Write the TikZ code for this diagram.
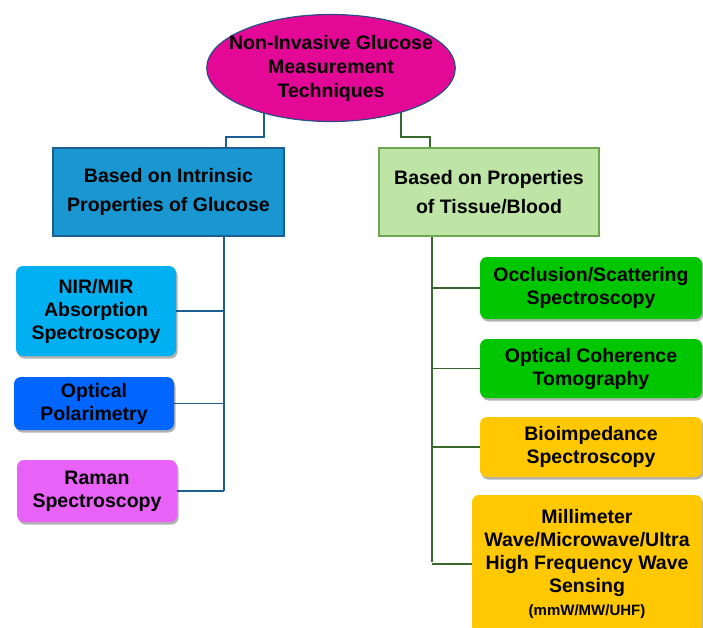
\documentclass[tikz,border=0pt]{standalone}
\usepackage{fontspec}
\setmainfont{Liberation Sans}
\usepackage{tikz}
\usetikzlibrary{shapes.geometric, shadows}
\pgfdeclarelayer{background}
\pgfsetlayers{background,main}

\definecolor{rootfill}{RGB}{228,8,150}
\definecolor{rootline}{RGB}{40,80,130}
\definecolor{intrfill}{RGB}{26,150,208}
\definecolor{intrline}{RGB}{30,95,145}
\definecolor{tissfill}{RGB}{190,229,166}
\definecolor{tissline}{RGB}{110,168,80}
\definecolor{greenline}{RGB}{55,105,45}
\definecolor{nirfill}{RGB}{0,176,240}
\definecolor{polfill}{RGB}{0,102,255}
\definecolor{ramfill}{RGB}{233,98,248}
\definecolor{occfill}{RGB}{0,198,0}
\definecolor{biofill}{RGB}{255,200,0}

\tikzset{
  root/.style={ellipse, draw=rootline, line width=1.2pt, fill=rootfill,
    align=center, inner xsep=-14pt, inner ysep=0pt, minimum width=248, minimum height=107,
    font=\bfseries\fontsize{19.5}{24}\selectfont},
  group/.style={rectangle, line width=1.2pt, align=center, inner sep=0pt,
    font=\bfseries\fontsize{19.5}{29}\selectfont},
  method/.style={rectangle, rounded corners=7pt, align=center, inner sep=0pt,
    font=\bfseries\fontsize{19.5}{23}\selectfont,
    drop shadow={shadow xshift=1.5pt, shadow yshift=-2.5pt, opacity=0.3, fill=black}},
  lline/.style={draw=intrline, line width=1.8pt},
  rline/.style={draw=greenline, line width=1.8pt}
}

\begin{document}
\begin{tikzpicture}[x=1pt, y=-1pt]
\useasboundingbox (0,0) rectangle (703,628);

\node [root] (E) at (331,68) {Non-Invasive Glucose\\Measurement\\Techniques};

\node [group, draw=intrline, fill=intrfill, minimum width=231, minimum height=88]
  (M1) at (168.5,192) {Based on Intrinsic\\Properties of Glucose};
\node [group, draw=tissline, fill=tissfill, minimum width=220, minimum height=88]
  (M2) at (489,192) {Based on Properties\\of Tissue/Blood};


\node [method, fill=nirfill, minimum width=160, minimum height=90] (L1) at (96,311) {NIR/MIR\\Absorption\\Spectroscopy};
\node [method, fill=polfill, minimum width=160, minimum height=53] (L2) at (94,403.5) {Optical\\Polarimetry};
\node [method, fill=ramfill, minimum width=160, minimum height=62] (L3) at (97,491) {Raman\\Spectroscopy};

\node [method, fill=occfill, minimum width=222, minimum height=62] (R1) at (591,288) {Occlusion/Scattering\\Spectroscopy};
\node [method, fill=occfill, minimum width=222, minimum height=59] (R2) at (591,368.5) {Optical Coherence\\Tomography};
\node [method, fill=biofill, minimum width=222, minimum height=60] (R3) at (591,447) {Bioimpedance\\Spectroscopy};
\node [method, fill=biofill, minimum width=230, minimum height=138] (R4) at (587,564)
  {Millimeter\\Wave/Microwave/Ultra\\High Frequency Wave\\Sensing\\{\fontsize{15}{23}\selectfont(mmW/MW/UHF)}};

% trunks and joints
\coordinate (LJ) at (226,137);
\coordinate (RJ) at (430,137);
\coordinate (LT) at (224,491);
\coordinate (RT) at (432,562);

\begin{pgfonlayer}{background}
\draw [lline] ([xshift=-67pt]E.center) |- (LJ) -- (LJ |- M1.north);
\draw [rline] ([xshift=70pt]E.center) |- (RJ) -- (RJ |- M2.north);

\draw [lline] (M1.south -| LT) -- (LT);
\draw [rline] (M2.south -| RT) -- (RT);

\foreach \t in {L1, L2, L3}
    \draw [lline] (\t.east) -- (\t.east -| LT);

\foreach \t in {R1, R2, R3, R4}
    \draw [rline] (\t.west) -- (\t.west -| RT);
\end{pgfonlayer}

\end{tikzpicture}
\end{document}
